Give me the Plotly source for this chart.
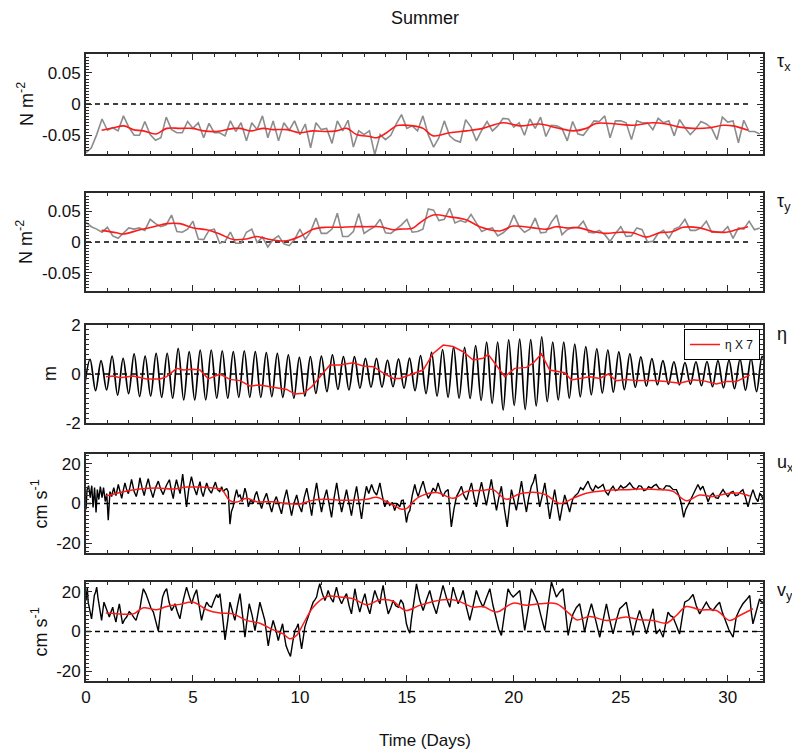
import plotly.graph_objects as go

# ---------------- data ----------------
# wind stress, 6-hourly samples starting at day 0
tau_t0 = 0.0
tau_dt = 0.25
tau_x = [-0.078,-0.070,-0.049,-0.024,-0.042,-0.038,-0.043,-0.019,-0.037,-0.050,
 -0.050,-0.028,-0.049,-0.058,-0.054,-0.021,-0.041,-0.046,-0.046,-0.028,
 -0.039,-0.030,-0.054,-0.031,-0.046,-0.046,-0.051,-0.027,-0.044,-0.030,
 -0.059,-0.030,-0.041,-0.019,-0.054,-0.027,-0.059,-0.030,-0.042,-0.027,
 -0.049,-0.032,-0.070,-0.030,-0.041,-0.039,-0.063,-0.027,-0.043,-0.026,
 -0.069,-0.043,-0.049,-0.043,-0.081,-0.049,-0.057,-0.050,-0.032,-0.017,
 -0.039,-0.035,-0.043,-0.019,-0.049,-0.069,-0.054,-0.027,-0.051,-0.058,
 -0.061,-0.025,-0.037,-0.059,-0.042,-0.028,-0.043,-0.035,-0.023,-0.024,
 -0.037,-0.030,-0.050,-0.024,-0.039,-0.021,-0.052,-0.034,-0.035,-0.039,
 -0.059,-0.028,-0.048,-0.050,-0.039,-0.027,-0.028,-0.019,-0.054,-0.027,
 -0.027,-0.030,-0.057,-0.027,-0.030,-0.030,-0.041,-0.023,-0.030,-0.027,
 -0.051,-0.025,-0.038,-0.049,-0.040,-0.028,-0.032,-0.039,-0.057,-0.021,
 -0.029,-0.027,-0.062,-0.026,-0.044,-0.044,-0.048]
tau_y = [0.032,0.025,0.021,0.016,0.024,0.010,0.006,0.014,0.023,0.021,
 0.023,0.019,0.037,0.030,0.025,0.028,0.044,0.017,0.016,0.021,
 0.034,0.005,0.004,0.019,0.021,-0.002,0.001,0.016,-0.002,-0.002,
 0.016,0.021,-0.001,0.008,-0.008,0.004,0.010,-0.003,-0.006,0.004,
 0.021,0.004,0.017,0.039,0.014,0.014,0.021,0.047,0.009,0.009,
 0.017,0.046,0.014,0.020,0.025,0.037,0.015,0.014,0.021,
 0.028,0.037,0.016,0.017,0.021,0.054,0.052,0.035,0.037,0.055,
 0.031,0.035,0.032,0.045,0.031,0.017,0.021,0.023,0.010,0.015,
 0.023,0.044,0.025,0.016,0.021,0.039,0.015,0.016,0.032,0.044,
 0.012,0.020,0.024,0.024,0.034,0.016,0.015,0.019,0.012,0.001,
 0.014,0.025,0.009,0.010,0.023,0.020,0.000,0.001,0.014,0.019,
 0.006,0.021,0.025,0.037,0.019,0.019,0.023,0.034,0.016,0.016,
 0.016,0.025,0.006,0.023,0.021,0.034,0.020,0.023]

# low-passed wind stress
taux_lp_t = [0.73,1.28,1.78,2.2,2.68,3.27,3.77,4.4,5.0,5.5,6.1,6.9,7.2,7.7,8.3,8.75,
             9.4,10.0,10.6,11.25,11.7,12.2,12.65,13.27,13.6,14.05,14.5,
             14.67,15.29,15.76,16.23,17.01,17.79,18.56,19.5,20.28,21.21,21.99,22.77,
             23.39,23.86,24.79,25.57,26.51,27.13,27.75,28.38,29.16,29.78,30.25,30.95]
taux_lp = [-0.042,-0.038,-0.035,-0.041,-0.043,-0.048,-0.039,-0.039,-0.039,-0.043,-0.044,
           -0.039,-0.039,-0.043,-0.039,-0.041,-0.041,-0.046,-0.043,-0.044,-0.043,-0.039,
           -0.049,-0.052,-0.054,-0.046,-0.035,
           -0.034,-0.035,-0.039,-0.051,-0.046,-0.043,-0.039,-0.030,-0.035,-0.032,-0.038,
           -0.043,-0.039,-0.031,-0.032,-0.034,-0.030,-0.032,-0.037,-0.039,-0.038,-0.034,
           -0.035,-0.042]
tauy_lp_t = [0.73,1.43,1.74,2.52,3.30,3.77,4.39,5.02,5.64,6.26,6.88,7.51,7.98,8.60,9.38,
             10.0,10.62,11.25,11.87,12.49,13.12,13.74,14.36,
             14.67,15.29,15.6,16.23,17.01,17.79,18.41,19.34,19.97,20.9,21.52,21.99,22.46,
             23.08,23.7,24.33,24.95,25.57,26.2,26.82,27.44,27.91,28.69,29.31,29.93,30.4,30.95]
tauy_lp = [0.019,0.015,0.013,0.020,0.026,0.030,0.030,0.023,0.020,0.013,0.004,0.005,0.009,
           0.004,0.002,0.009,0.021,0.024,0.024,0.025,0.025,0.025,0.020,
           0.021,0.023,0.031,0.044,0.041,0.036,0.025,0.018,0.026,0.023,0.021,0.025,0.023,
           0.023,0.017,0.014,0.016,0.015,0.008,0.015,0.017,0.024,0.023,0.017,0.016,0.020,0.025]

# sea level: high / low water heights, alternating, every half tidal cycle
eta_t0 = -0.0675
eta_dt = 0.2575
eta_hl = [-0.50,
 0.60,-0.68, 0.55,-0.65, 0.73,-0.86, 0.64,-0.80, 0.82,-0.92, 0.73,-0.90, 0.84,-0.95,
 0.84,-0.99, 1.05,-1.06, 0.91,-1.06, 0.98,-1.06, 0.98,-0.99, 0.95,-0.99, 0.91,-0.95,
 0.95,-0.95, 0.91,-0.95, 0.87,-0.92, 0.84,-0.95, 0.78,-0.99, 0.68,-0.90, 0.71,-0.79,
 0.73,-0.72, 0.78,-0.63, 0.71,-0.65, 0.71,-0.58, 0.64,-0.54, 0.64,-0.54, 0.57,-0.52,
 0.62,-0.58, 0.65,-0.68, 0.75,-0.80, 0.88,-0.90, 1.00,-0.95, 1.10,-0.99, 1.09,-1.00,
 1.16,-1.08, 1.30,-1.20, 1.30,-1.47, 1.39,-1.28, 1.42,-1.45, 1.40,-1.30, 1.52,-1.13,
 1.30,-1.06, 1.30,-0.99, 1.22,-0.93, 1.12,-0.85, 1.03,-0.78, 0.98,-0.74, 0.90,-0.64,
 0.82,-0.54, 0.70,-0.50, 0.63,-0.44, 0.55,-0.42, 0.50,-0.44, 0.47,-0.42, 0.50,-0.48,
 0.51,-0.52, 0.55,-0.57, 0.57,-0.60, 0.61,-0.66, 0.65,-0.72, 0.72,-0.78]
# low-passed sea level x 7
eta7_t = [0.93,1.28,1.59,2.21,2.83,3.46,3.77,4.24,4.55,5.02,5.33,5.72,6.26,6.73,7.20,7.66,
          8.13,8.60,8.91,9.38,9.77,10.16,10.55,10.93,11.40,11.87,12.49,12.96,13.43,13.89,
          14.36,14.67,15.29,15.76,16.23,16.70,17.16,17.63,18.1,18.56,18.8,19.19,19.58,
          20.04,20.59,20.9,21.29,21.68,21.99,22.38,22.69,23.08,23.55,24.02,24.41,24.79,
          25.26,25.73,26.51,27.13,27.75,28.38,28.84,29.47,29.93,30.4,30.71,31.03]
eta7 = [-0.11,-0.08,-0.15,-0.08,-0.20,-0.20,-0.11,0.23,0.16,0.19,0.16,-0.20,0.0,-0.22,
        -0.27,-0.49,-0.45,-0.52,-0.58,-0.63,-0.82,-0.79,-0.52,-0.11,0.37,0.37,0.46,0.33,
        0.30,0.05,-0.18,-0.18,0.03,0.16,0.84,1.18,1.12,0.91,0.57,0.64,0.80,0.33,-0.11,
        0.23,0.27,0.44,0.82,0.16,0.10,0.05,-0.24,-0.18,-0.11,-0.18,0.0,-0.27,-0.22,-0.27,
        -0.27,-0.31,-0.38,-0.24,-0.27,-0.41,-0.31,-0.31,-0.18,-0.04]

# cross-shore velocity u (cm/s): (day, value) readings
u_obs = [(0.00,-3),(0.03,5),(0.05,7),(0.12,9),(0.16,5),(0.20,3),(0.23,6),(0.27,9),(0.33,-2),
 (0.37,4),(0.40,8),(0.47,-4.5),(0.53,7),(0.57,4),(0.60,2),(0.67,8.5),(0.75,3),(0.82,8),
 (0.86,5),(0.90,1),(0.97,5),(1.04,-8.5),(1.12,6),(1.20,3.5),(1.25,6),(1.30,8),(1.36,5),
 (1.40,4),(1.51,9.6),(1.58,6),(1.67,2.6),(1.75,7),(1.82,10.4),(1.90,7),(1.98,5),(2.05,8),
 (2.13,12.2),(2.25,6),(2.35,3.5),(2.45,8),(2.52,13),(2.62,8),(2.72,4),(2.82,9),(2.91,12.5),
 (3.02,7),(3.13,3),(3.25,8),(3.38,11.3),(3.50,7),(3.61,4.5),(3.75,9),(3.90,12),(4.00,6),
 (4.08,2.5),(4.15,8),(4.23,12),(4.32,8),(4.40,5),(4.52,14.8),(4.62,6),(4.70,-1.7),(4.80,7),
 (4.93,13.6),(5.05,8),(5.17,4.3),(5.25,8),(5.33,11),(5.40,6),(5.48,3.5),(5.56,7),(5.64,10.4),
 (5.75,7),(5.86,5.2),(5.95,8),(6.05,10.8),(6.15,7),(6.25,6),(6.34,8.5),(6.42,6),(6.50,7),
 (6.58,7.5),(6.65,6),(6.73,-10.4),(6.80,-4),(6.88,-1.7),(6.95,3),(7.04,7),(7.12,3.5),
 (7.20,4.3),(7.30,1),(7.43,7.8),(7.50,5),(7.59,-1.7),(7.70,2),(7.82,0),(7.90,4),(7.98,6.1),
 (8.10,1),(8.21,-2.6),(8.32,2),(8.44,5.2),(8.55,0.5),(8.68,-4.3),(8.80,1),(8.90,3.5),
 (9.02,-1),(9.14,-5.2),(9.26,2),(9.38,7),(9.50,0),(9.61,-6.1),(9.72,0),(9.85,4.3),(9.96,-1),
 (10.08,-4.3),(10.20,3),(10.32,7.8),(10.44,1),(10.55,-6.1),(10.66,3),(10.78,10.4),(10.90,2),
 (11.01,-4.3),(11.12,2),(11.25,7),(11.36,0),(11.48,-7),(11.60,3),(11.72,10.4),(11.84,2),
 (11.95,-4.3),(12.06,1),(12.18,7),(12.30,0),(12.41,-6.1),(12.53,2),(12.65,8.7),(12.77,0),
 (12.88,-7.8),(13.00,2),(13.11,8.7),(13.22,5),(13.35,9.6),(13.47,6),(13.59,4.3),(13.66,7),
 (13.74,10.4),(13.85,4),(13.97,-1.7),(14.08,1.5),(14.20,-0.9),(14.32,0.5),(14.43,-3.5),
 (14.55,0),(14.67,-1.7),(14.75,1.5),(14.83,1.7),(14.90,-3),(14.98,-9.6),(15.06,-5),
 (15.14,-3.5),(15.25,4),(15.37,9.6),(15.45,6),(15.53,3.5),(15.65,8),(15.76,11.3),(15.88,6),
 (16.00,2.6),(16.12,5),(16.23,7.8),(16.35,6),(16.46,10.4),(16.58,6),(16.69,3.5),(16.80,6),
 (16.93,7.0),(17.00,-2),(17.08,-11.8),(17.20,-3),(17.32,3.5),(17.44,6),(17.55,8.7),(17.67,4),
 (17.79,1.7),(17.90,6),(18.02,10.4),(18.13,4),(18.25,-1.7),(18.37,5),(18.49,10.8),(18.60,5),
 (18.72,-0.9),(18.84,6),(18.95,12.2),(19.07,4),(19.19,-3.5),(19.30,3),(19.42,8.7),(19.55,-2),
 (19.69,-11.8),(19.79,-2),(19.89,7.0),(20.00,2),(20.12,-3.5),(20.24,4),(20.36,11.3),(20.47,3),
 (20.59,-4.3),(20.70,3),(20.82,8.7),(20.92,11),(21.01,14.8),(21.11,6),(21.21,-1.7),(21.33,4),
 (21.45,10.4),(21.56,2),(21.68,-7.8),(21.80,0),(21.91,7.0),(22.03,-1),(22.15,-8.7),(22.26,-2),
 (22.38,4.3),(22.50,0),(22.61,-4.3),(22.70,0),(22.77,2.6),(22.88,4),(23.00,5.2),(23.12,8),
 (23.24,7.0),(23.35,9),(23.47,11.3),(23.58,8),(23.70,6.1),(23.82,9),(23.94,7.8),(24.05,8.5),
 (24.17,9.6),(24.29,6),(24.41,4.3),(24.52,7),(24.64,8.7),(24.75,6.5),(24.87,7.0),(25.00,9),
 (25.11,7.8),(25.25,8.5),(25.42,10.4),(25.58,8),(25.73,7.0),(25.85,9),(25.96,8.7),(26.08,6.5),
 (26.20,7.0),(26.30,8.5),(26.43,7.8),(26.55,9),(26.66,9.6),(26.80,7.5),(26.98,7.0),(27.12,9),
 (27.29,8.7),(27.45,7),(27.60,7.0),(27.72,4),(27.83,0),(27.94,-7.0),(28.04,-3),(28.14,-0.9),
 (28.26,2),(28.38,4.3),(28.50,7),(28.61,9.6),(28.72,7),(28.84,8.7),(28.96,5),(29.08,0.9),
 (29.20,4),(29.31,5.2),(29.43,3),(29.55,2.6),(29.66,5),(29.78,7.0),(29.90,5),(30.01,3.5),
 (30.13,5.5),(30.25,6.1),(30.36,4),(30.48,4.3),(30.60,6),(30.71,7.0),(30.83,3),(30.95,-1.7),
 (31.06,3),(31.18,7.0),(31.30,3),(31.41,0.9),(31.50,5),(31.57,4.3),(31.65,2)]
u_lp_t = [0.93,1.59,2.52,3.30,4.08,4.70,5.33,5.95,6.34,6.73,7.04,7.51,7.98,8.75,9.38,10.0,
          10.62,11.25,11.87,12.49,13.12,13.58,14.05,14.52,14.67,14.98,15.29,15.6,16.38,
          17.16,17.79,18.56,19.03,19.65,20.28,21.06,21.52,22.15,22.77,23.39,24.33,25.26,
          25.88,26.82,27.44,28.07,28.69,29.31,29.93,30.56,31.03]
u_lp = [3.8,5.6,7.3,7.8,7.3,8.3,8.3,7.8,7.0,1.4,0.7,2.6,0.9,0.9,0,-0.3,
        1.7,2.1,1.7,1.7,2.1,3.1,0.9,-1.7,-2.6,-2.6,0.9,3.5,5.6,
        2.6,6.1,6.6,7.0,2.1,4.9,5.6,4.3,0,2.6,5.2,6.6,7.0,
        7.3,7.0,6.1,1.4,4.3,3.5,4.9,5.2,3.8]

# along-shore velocity v (cm/s): (day, value) readings
v_obs = [(0.00,15.7),(0.03,22),(0.06,22.4),(0.10,15),(0.16,10.6),(0.21,9),(0.26,6.4),(0.32,12),
 (0.39,18.2),(0.45,20),(0.50,22.4),(0.56,17),(0.62,12.3),(0.68,9),(0.73,5.6),(0.78,10),
 (0.84,14.8),(0.90,13),(0.97,10.6),(1.03,9),(1.09,7.3),(1.17,10),(1.25,12.3),(1.32,8),
 (1.40,4.7),(1.48,10),(1.56,14.0),(1.63,9),(1.71,3.9),(1.80,6),(1.90,7.3),(2.02,10),(2.13,8.9),
 (2.24,7),(2.34,5.6),(2.43,9),(2.52,11.5),(2.60,17),(2.68,21.6),(2.80,19),(2.91,15.7),(3.03,12),
 (3.15,9.8),(3.27,5),(3.38,0.2),(3.48,10),(3.58,17.4),(3.67,20),(3.77,21.6),(3.88,15),
 (4.00,10.6),(4.08,12),(4.16,14.0),(4.27,10),(4.39,6.4),(4.55,16),(4.70,22.4),(4.82,18),
 (4.94,14.0),(5.05,18),(5.17,21.1),(5.29,13),(5.40,5.6),(5.52,11),(5.64,14.8),(5.75,13),
 (5.87,12.3),(6.00,16),(6.11,18.7),(6.18,17),(6.26,19.1),(6.38,8),(6.50,-4.2),(6.62,5),
 (6.73,14.8),(6.85,10),(6.96,5.6),(7.08,13),(7.20,19.1),(7.32,8),(7.43,-2.9),(7.53,6),
 (7.63,14.0),(7.77,8),(7.90,0.5),(8.02,8),(8.13,14.8),(8.25,10),(8.36,5.6),(8.44,-1),
 (8.52,-7.3),(8.63,0),(8.75,5.6),(8.87,1),(8.99,-4.6),(9.09,0),(9.19,3.9),(9.27,-2),
 (9.35,-7.1),(9.45,-10),(9.56,-12.6),(9.67,-5),(9.77,0.5),(9.85,2),(9.92,3.9),(10.00,-3),
 (10.08,-8.8),(10.16,-3),(10.23,2.2),(10.31,5),(10.39,7.3),(10.50,11),(10.62,14.8),(10.70,16),
 (10.78,17.4),(10.85,21),(10.93,24.1),(11.05,19),(11.17,15.7),(11.25,18),(11.32,20.7),
 (11.44,17),(11.56,14.8),(11.63,19),(11.71,22.4),(11.83,17),(11.95,14.0),(12.07,17),
 (12.18,19.1),(12.30,13),(12.41,8.9),(12.49,15),(12.57,21.6),(12.68,15),(12.80,9.8),
 (12.92,15),(13.04,19.1),(13.15,13),(13.27,8.9),(13.38,15),(13.50,20.7),(13.62,17),
 (13.74,14.0),(13.81,19),(13.89,23.3),(14.01,15),(14.13,8.9),(14.25,12),(14.36,15.7),
 (14.48,13),(14.60,12.3),(14.72,16),(14.83,14.0),(14.91,9),(14.98,3.9),(15.06,1),(15.14,-0.8),
 (15.21,6),(15.29,12.3),(15.37,19),(15.45,24.1),(15.60,16),(15.76,10.6),(15.92,16),
 (16.07,20.7),(16.22,14),(16.38,8.9),(16.53,16),(16.69,23.3),(16.85,17),(17.01,12.3),
 (17.08,17),(17.16,22.4),(17.28,18),(17.40,14.0),(17.52,17),(17.63,20.7),(17.79,12),
 (17.94,5.6),(18.10,13),(18.25,20.7),(18.40,16),(18.56,12.3),(18.72,17),(18.88,21.6),
 (19.03,13),(19.19,5.6),(19.30,1),(19.42,-2.0),(19.58,10),(19.73,21.6),(19.85,19),
 (19.97,17.4),(20.12,19),(20.28,20.7),(20.40,10),(20.51,0.5),(20.67,11),(20.82,21.6),
 (20.98,18),(21.13,14.0),(21.29,7),(21.45,0.5),(21.60,13),(21.76,25.0),(21.88,21),
 (21.99,17.4),(22.15,20),(22.30,21.6),(22.42,10),(22.54,-2.0),(22.65,4),(22.77,8.9),
 (22.92,12),(23.08,14.0),(23.20,7),(23.31,-0.3),(23.47,8),(23.63,14.0),(23.82,6),
 (24.02,-2.9),(24.18,6),(24.33,14.0),(24.48,6),(24.64,-1.2),(24.80,6),(24.95,11.5),
 (25.10,13),(25.26,14.8),(25.42,6),(25.57,-2.0),(25.72,5),(25.88,10.6),(26.04,5),(26.20,-1.2),
 (26.35,5),(26.51,11.5),(26.58,5),(26.66,-1.2),(26.82,1),(26.98,-2.9),(27.10,4),(27.21,9.8),
 (27.32,8),(27.44,7.3),(27.60,3),(27.75,-1.2),(27.87,7),(27.99,14.8),(28.18,16),(28.38,18.7),
 (28.53,13),(28.69,8.9),(28.85,12),(29.00,14.8),(29.15,12),(29.31,10.6),(29.47,13),
 (29.62,14.8),(29.74,10),(29.86,6.4),(30.05,1),(30.25,-2.9),(30.32,2),(30.40,7.3),(30.55,11),
 (30.71,14.0),(30.87,16),(31.03,18.2),(31.10,10),(31.18,3.9),(31.33,10),(31.49,16.5),
 (31.57,15),(31.65,14.8)]
v_lp_t = [0.93,1.59,2.21,2.68,3.30,3.77,4.39,5.02,5.64,6.26,6.88,7.51,8.13,8.75,9.22,9.53,
          9.84,10.16,10.62,11.25,11.87,12.49,13.12,13.74,14.36,14.67,14.98,15.6,16.69,
          17.32,18.1,18.56,19.19,19.97,20.59,21.21,21.99,22.61,22.93,23.55,24.33,25.26,
          25.88,26.51,27.13,27.6,28.07,28.69,29.47,30.09,30.56,31.18]
v_lp = [9.3,8.9,8.9,12.0,11.0,12.6,13.7,14.8,11.0,9.3,8.9,5.6,4.2,0.8,-1.2,-3.7,
        -2.0,3.9,12.3,17.7,17.4,16.5,13.5,16.0,15.3,12.3,10.6,13.2,16.0,
        15.7,12.3,12.6,9.8,14.3,13.2,14.0,14.0,8.9,5.9,7.6,5.6,7.3,
        5.9,5.6,4.2,8.1,12.6,11.0,10.6,5.6,8.1,11.5]

x_ticks = [0, 5, 10, 15, 20, 25, 30]
panel_labels = ["τ<sub>x</sub>", "τ<sub>y</sub>", "η", "u<sub>x</sub>", "v<sub>y</sub>"]
y_titles = ["N m<sup>-2</sup>", "N m<sup>-2</sup>", "m", "cm s<sup>-1</sup>", "cm s<sup>-1</sup>"]

# ---------------- geometry (window pixels) ----------------
W, H = 792, 750
PL, PR, PT, PB = 86, 763, 54, 681          # plot area in window pixels
L, R, T, B = PL, W - PR, PT, H - PB
PW, PH = PR - PL, PB - PT
panels_px = [(54, 154), (193, 291), (325, 423), (454, 553), (582, 681)]
def py(px):
    return (PB - px) / PH
def pxx(px):
    return (px - PL) / PW

FONT = "Liberation Sans, Arial, sans-serif"
AX = "#2a2a2a"
GRAY = "#8c8c8c"
RED = "#ff1a1a"

tau_tt = [tau_t0 + i * tau_dt for i in range(len(tau_x))]
eta_tt = [eta_t0 + i * eta_dt for i in range(len(eta_hl))]
u_t, u = [p[0] for p in u_obs], [p[1] for p in u_obs]
v_t, v = [p[0] for p in v_obs], [p[1] for p in v_obs]

fig = go.Figure()
def add(x, y, k, color, width=1.3, shape="linear", name=None, legend=False):
    ax = "" if k == 1 else str(k)
    fig.add_trace(go.Scatter(x=x, y=y, xaxis="x" + ax, yaxis="y" + ax, mode="lines",
                             line=dict(color=color, width=width, shape=shape),
                             name=name, showlegend=legend, hoverinfo="skip"))

add(tau_tt, tau_x, 1, GRAY, 1.6)
add(taux_lp_t, taux_lp, 1, RED, 1.6, "spline")
add(tau_tt, tau_y, 2, GRAY, 1.6)
add(tauy_lp_t, tauy_lp, 2, RED, 1.6, "spline")
add(eta_tt, eta_hl, 3, "black", 1.7, "spline")
add(eta7_t, eta7, 3, RED, 1.5, "linear", name="η X 7", legend=True)
add(u_t, u, 4, "black", 1.4)
add(u_lp_t, u_lp, 4, RED, 1.5, "spline")
add(v_t, v, 5, "black", 1.4)
add(v_lp_t, v_lp, 5, RED, 1.5, "spline")

yconf = [
    dict(range=[-0.08, 0.08], tickvals=[-0.05, 0, 0.05], ticktext=["-0.05", "0", "0.05"], minor=0.005),
    dict(range=[-0.08, 0.08], tickvals=[-0.05, 0, 0.05], ticktext=["-0.05", "0", "0.05"], minor=0.005),
    dict(range=[-2, 2], tickvals=[-2, 0, 2], ticktext=["-2", "0", "2"], minor=0.2),
    dict(range=[-25, 25], tickvals=[-20, 0, 20], ticktext=["-20", "0", "20"], minor=2),
    dict(range=[-25, 25], tickvals=[-20, 0, 20], ticktext=["-20", "0", "20"], minor=2),
]
layout = dict(width=W, height=H, margin=dict(l=L, r=R, t=T, b=B, autoexpand=False),
              paper_bgcolor="white", plot_bgcolor="white",
              font=dict(family=FONT, size=17, color="#111"))
shapes, annotations = [], []
for k in range(1, 6):
    ax = "" if k == 1 else str(k)
    top, bot = panels_px[k - 1]
    yc = yconf[k - 1]
    layout["xaxis" + ax] = dict(domain=[0, 1], anchor="y" + ax, range=[0, 31.65],
                                tickvals=x_ticks, ticktext=[str(v_) for v_ in x_ticks],
                                showticklabels=(k == 5), ticks="inside", ticklen=6, tickwidth=1.3,
                                tickcolor=AX, showline=True, linecolor=AX, linewidth=1.7,
                                mirror="allticks", showgrid=False, zeroline=False,
                                tickfont=dict(size=17),
                                minor=dict(dtick=1, tick0=0, ticks="inside", ticklen=3,
                                           tickwidth=1, tickcolor=AX, showgrid=False))
    layout["yaxis" + ax] = dict(domain=[py(bot), py(top)], anchor="x" + ax, range=yc["range"],
                                tickvals=yc["tickvals"], ticktext=yc["ticktext"],
                                ticks="inside", ticklen=6, tickwidth=1.3, tickcolor=AX,
                                showline=True, linecolor=AX, linewidth=1.7, mirror="allticks",
                                showgrid=False, zeroline=False, tickfont=dict(size=17),
                                minor=dict(dtick=yc["minor"], tick0=0, ticks="inside", ticklen=3,
                                           tickwidth=1, tickcolor=AX, showgrid=False))
    shapes.append(dict(type="line", xref="x" + ax + " domain", yref="y" + ax,
                       x0=0, x1=1 if k > 2 else 0.98, y0=0, y1=0,
                       line=dict(color="black", width=1.3, dash="5px,4px"), layer="below"))
    annotations.append(dict(text=panel_labels[k - 1], xref="paper", yref="paper",
                            x=pxx(775), y=py(top + 9), xanchor="left", yanchor="middle",
                            showarrow=False, font=dict(size=18)))
    tx = {1: 25, 2: 25, 3: 50, 4: 40, 5: 40}[k]
    annotations.append(dict(text=y_titles[k - 1], xref="paper", yref="paper",
                            x=pxx(tx), y=py((top + bot) / 2), xanchor="center", yanchor="middle",
                            textangle=-90, showarrow=False, font=dict(size=18)))

annotations.append(dict(text="Summer", xref="paper", yref="paper", x=pxx(424.5), y=py(18),
                        xanchor="center", yanchor="middle", showarrow=False, font=dict(size=18)))
annotations.append(dict(text="Time (Days)", xref="paper", yref="paper", x=pxx(424.5), y=py(740),
                        xanchor="center", yanchor="middle", showarrow=False, font=dict(size=17)))
layout["shapes"] = shapes
layout["annotations"] = annotations
layout["legend"] = dict(x=pxx(760), y=py(329), xanchor="right", yanchor="top",
                        bordercolor="black", borderwidth=1, bgcolor="white",
                        font=dict(size=12, family=FONT, color="#111"), itemwidth=30,
                        tracegroupgap=0)
fig.update_layout(**layout)
fig.write_html("out.html", config={"displayModeBar": False},
               post_script="document.body.style.margin='0px';document.body.style.overflow='hidden';")
